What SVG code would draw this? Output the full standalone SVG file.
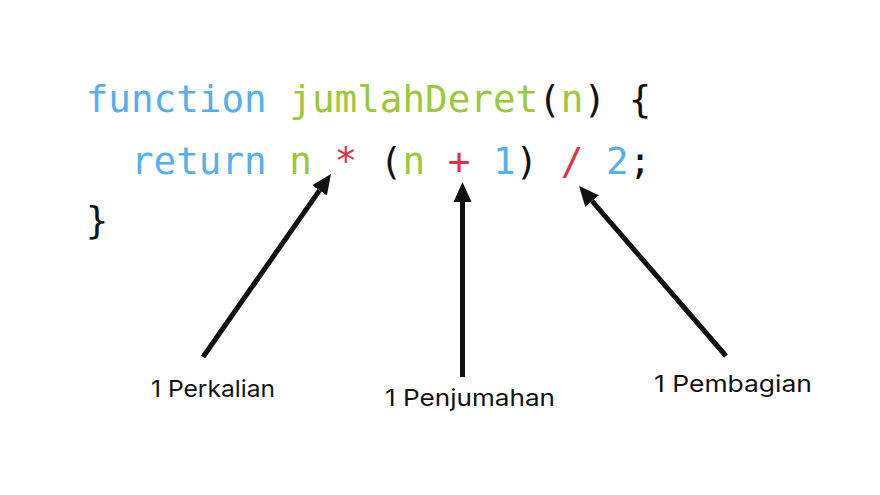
<svg xmlns="http://www.w3.org/2000/svg" width="880" height="495" viewBox="0 0 880 495">
  <defs>
    <style>
      .code { font-family: "DejaVu Sans Mono", "Liberation Mono", monospace; font-size: 37.6px; white-space: pre; }
      .kw { fill: #58AEEF; }
      .id { fill: #9CC83A; }
      .op { fill: #DC3247; }
      .pn { fill: #111111; }
      .lbl { font-family: Inter, "Noto Sans", "Liberation Sans", sans-serif; font-size: 23px; fill: #111111; }
      .conn { stroke: #111111; stroke-width: 5; fill: none; }
    </style>
    <marker id="ah" markerUnits="userSpaceOnUse" markerWidth="22" markerHeight="20" viewBox="0 -10 22 20" refX="0" refY="0" orient="auto">
      <path d="M0,-9 L20,0 L0,9 z" fill="#111111"/>
    </marker>
  </defs>
  <rect width="880" height="495" fill="#ffffff"/>
  <g id="code">
    <text class="code" x="85.7" y="112" xml:space="preserve"><tspan class="kw">function</tspan><tspan class="pn"> </tspan><tspan class="id">jumlahDeret</tspan><tspan class="pn">(</tspan><tspan class="id">n</tspan><tspan class="pn">) {</tspan></text>
    <text class="code" x="85.7" y="174" xml:space="preserve"><tspan class="pn">  </tspan><tspan class="kw">return</tspan><tspan class="pn"> </tspan><tspan class="id">n</tspan><tspan class="pn"> </tspan><tspan class="op">*</tspan><tspan class="pn"> (</tspan><tspan class="id">n</tspan><tspan class="pn"> </tspan><tspan class="op">+</tspan><tspan class="pn"> </tspan><tspan class="kw">1</tspan><tspan class="pn">) </tspan><tspan class="op">/</tspan><tspan class="pn"> </tspan><tspan class="kw">2</tspan><tspan class="pn">;</tspan></text>
    <text class="code pn" x="85.7" y="233">}</text>
  </g>
  <g id="label-perkalian">
    <text class="lbl" x="151" y="397" textLength="124" lengthAdjust="spacingAndGlyphs">1 Perkalian</text>
  </g>
  <g id="label-penjumahan">
    <text class="lbl" x="385" y="406" textLength="170" lengthAdjust="spacingAndGlyphs">1 Penjumahan</text>
  </g>
  <g id="label-pembagian">
    <text class="lbl" x="654" y="392" textLength="158" lengthAdjust="spacingAndGlyphs">1 Pembagian</text>
  </g>
  <g id="connectors">
    <line class="conn" x1="203" y1="357" x2="319.5" y2="190.4" marker-end="url(#ah)"/>
    <line class="conn" x1="462.5" y1="377" x2="462.5" y2="202" marker-end="url(#ah)"/>
    <line class="conn" x1="726" y1="356" x2="592.1" y2="201.1" marker-end="url(#ah)"/>
  </g>
</svg>
